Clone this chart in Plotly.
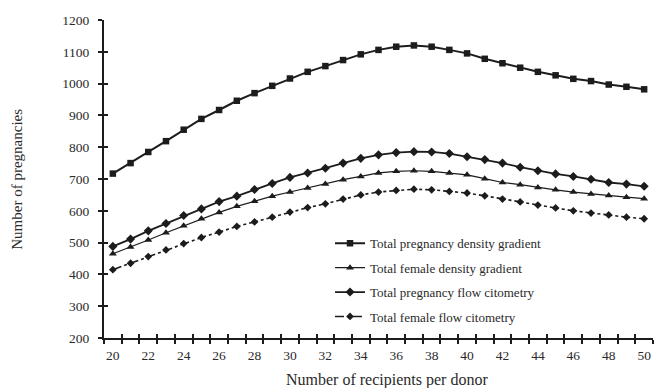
import plotly.graph_objects as go

# Recipients per donor (x axis categories)
recipients = list(range(20, 51))

# Series values (number of pregnancies)
preg_density = [717, 750, 785, 819, 855, 889, 917, 946, 970, 993, 1016, 1037, 1055,
                1074, 1092, 1106, 1116, 1120, 1116, 1106, 1095, 1078, 1064, 1050,
                1037, 1026, 1015, 1008, 997, 990, 982]
female_density = [465, 486, 508, 531, 553, 575, 595, 614, 630, 646, 659, 672, 684,
                  698, 708, 719, 724, 726, 724, 719, 713, 701, 689, 682, 673, 666,
                  659, 653, 648, 643, 638]
preg_flow = [488, 511, 537, 560, 585, 606, 629, 646, 667, 686, 705, 719, 734, 750,
             765, 776, 783, 786, 785, 780, 770, 761, 750, 737, 726, 716, 708, 699,
             689, 684, 677]
female_flow = [415, 435, 456, 477, 497, 516, 533, 551, 565, 580, 596, 610, 622, 637,
               650, 659, 664, 668, 666, 661, 656, 647, 637, 628, 618, 609, 600, 593,
               587, 580, 575]

series_names = ["Total pregnancy density gradient",
                "Total female density gradient",
                "Total pregnancy flow citometry",
                "Total female flow citometry"]

x_tick_labels = list(range(20, 51, 2))
y_ticks = list(range(200, 1201, 100))

INK = "#1c1c1c"
TEXT = "#2a2a2a"
FONT = "Liberation Serif"

styles = [
    dict(line=dict(color=INK, width=2.0), marker=dict(symbol="square", size=6.5, color=INK)),
    dict(line=dict(color=INK, width=1.2), marker=dict(symbol="triangle-up", size=7, color=INK)),
    dict(line=dict(color=INK, width=1.8), marker=dict(symbol="diamond", size=7, color=INK)),
    dict(line=dict(color=INK, width=1.6, dash="dashdot"), marker=dict(symbol="diamond", size=6, color=INK)),
]

fig = go.Figure()
for i, (name, vals) in enumerate(zip(series_names,
                                     [preg_density, female_density, preg_flow, female_flow])):
    fig.add_trace(go.Scatter(x=recipients, y=vals, name=name, mode="lines+markers",
                             legendgroup=f"g{i}", **styles[i]))

half_steps = [v + 0.5 for v in range(19, 51)]

common_x = dict(range=[19.5, 50.5], showgrid=False, zeroline=False)
common_y = dict(range=[200, 1200], showgrid=False, zeroline=False)

fig.update_layout(
    width=655, height=388,
    margin=dict(l=104, r=2, t=20, b=50),
    paper_bgcolor="white", plot_bgcolor="white",
    font=dict(family=FONT, size=13.5, color=TEXT),
    xaxis=dict(**common_x, showline=True, linecolor=INK, linewidth=2,
               tickmode="array", tickvals=x_tick_labels,
               ticktext=[str(v) for v in x_tick_labels], ticks="",
               ticklabelstandoff=4,
               minor=dict(tickmode="array", tickvals=half_steps, ticks="outside",
                          ticklen=4, tickwidth=2, tickcolor=INK)),
    xaxis2=dict(**common_x, overlaying="x", anchor="y", showline=False,
                tickmode="array", tickvals=half_steps, ticks="inside",
                ticklen=4, tickwidth=2, tickcolor=INK, showticklabels=False),
    yaxis=dict(**common_y, showline=True, linecolor=INK, linewidth=2,
               tickmode="array", tickvals=y_ticks, ticks="outside",
               ticklen=4, tickwidth=2, tickcolor=INK, ticklabelstandoff=6),
    yaxis2=dict(**common_y, overlaying="y", anchor="x", showline=False,
                tickmode="array", tickvals=y_ticks, ticks="inside",
                ticklen=4, tickwidth=2, tickcolor=INK, showticklabels=False),
    legend=dict(x=0.4117, y=0.345, xanchor="left", yanchor="top",
                font=dict(family=FONT, size=13, color=TEXT),
                bgcolor="rgba(0,0,0,0)", tracegroupgap=4.5, itemwidth=30),
    showlegend=True,
    annotations=[
        dict(text="Number of recipients per donor", xref="paper", yref="paper",
             x=0.516, y=-0.131, xanchor="center", yanchor="middle", showarrow=False,
             font=dict(family=FONT, size=16, color=TEXT)),
        dict(text="Number of pregnancies", xref="paper", yref="paper",
             x=-0.159, y=0.5, xanchor="center", yanchor="middle", showarrow=False,
             textangle=-90, font=dict(family=FONT, size=15, color=TEXT)),
    ],
)

# Overlay axes need a (hidden) trace to be drawn
fig.add_trace(go.Scatter(x=[None], y=[None], xaxis="x2", yaxis="y2",
                         showlegend=False, hoverinfo="skip"))

fig.write_html("out.html")
